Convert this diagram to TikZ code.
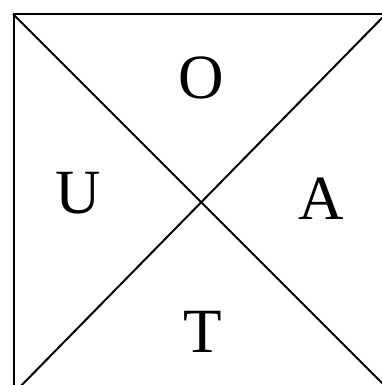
\documentclass[tikz,border=0pt]{standalone}
\usepackage{fontspec}
\setmainfont{Liberation Serif}
\begin{document}
\begin{tikzpicture}[x=1pt,y=1pt,
  edge/.style={line width=2pt,black},
  lbl/.style={inner sep=0pt,font=\fontsize{63}{63}\selectfont}]
\useasboundingbox (0,0) rectangle (382,385);
\clip (0,0) rectangle (382,385);
\coordinate (tl) at (13,371);
\coordinate (tr) at (392,371);
\coordinate (bl) at (14,-10);
\coordinate (d1e) at (392,-8);
\coordinate (d2s) at (384,369);
\coordinate (d2e) at (14,-8);
\draw[edge] (tl) -- (tr);
\draw[edge] (14,371) -- (bl);
\draw[edge] (tl) -- (d1e);
\draw[edge] (d2s) -- (d2e);
\node[lbl] (o) at (201,307) {O};
\node[lbl] (a) at (321,186) {A};
\node[lbl] (t) at (203,53) {T};
\node[lbl] (u) at (78,192) {U};
\end{tikzpicture}
\end{document}
